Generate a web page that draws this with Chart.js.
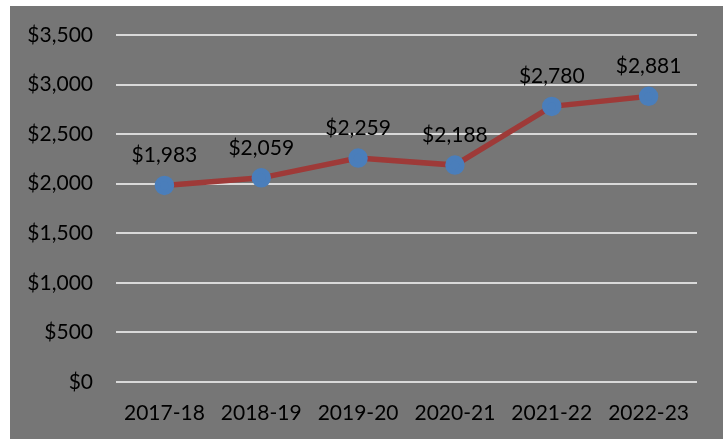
<!DOCTYPE html>
<html>
<head>
<meta charset="utf-8">
<script src="https://cdn.jsdelivr.net/npm/chart.js@4"></script>
<style>
  html, body { margin: 0; padding: 0; background: #fff; }
  #wrap { position: absolute; left: 10px; top: 6px; width: 713px; height: 433px; background: #767676; }
</style>
</head>
<body>
<div id="wrap"><canvas id="chartCanvas"></canvas></div>
<script>
// datos del grafico
var years = ["2017-18", "2018-19", "2019-20", "2020-21", "2021-22", "2022-23"];
var costs = [1983, 2059, 2259, 2188, 2780, 2881];
var yTicks = [0, 500, 1000, 1500, 2000, 2500, 3000, 3500];

function money(v) {
  return "$" + v.toLocaleString("en-US");
}

// etiquetas encima de cada punto
var labelPlugin = {
  id: "pointLabels",
  afterDatasetsDraw: function(chart) {
    var ctx = chart.ctx;
    var meta = chart.getDatasetMeta(0);
    ctx.save();
    ctx.font = "21px Lato";
    ctx.fillStyle = "#000";
    ctx.textAlign = "center";
    ctx.textBaseline = "middle";
    meta.data.forEach(function(pt, i) {
      ctx.fillText(money(costs[i]), pt.x, pt.y - 30);
    });
    ctx.restore();
  }
};

var ctx = document.getElementById("chartCanvas").getContext("2d");
var myChart = new Chart(ctx, {
  type: "line",
  data: {
    labels: years,
    datasets: [{
      data: costs,
      borderColor: "#9E3A38",
      borderWidth: 5.5,
      backgroundColor: "#4A7EBB",
      pointBackgroundColor: "#4A7EBB",
      pointBorderColor: "#4A7EBB",
      pointRadius: 7,
      tension: 0
    }]
  },
  options: {
    responsive: true,
    maintainAspectRatio: false,
    animation: false,
    layout: { padding: { top: 29, right: 26, bottom: 0, left: 17 } },
    plugins: { legend: { display: false }, tooltip: { enabled: false } },
    scales: {
      x: {
        offset: true,
        grid: { display: false },
        border: { display: false },
        afterFit: function(axis) { axis.height = 57; },
        ticks: { color: "#000", font: { family: "Lato", size: 21 }, padding: 11, maxRotation: 0, minRotation: 0 }
      },
      y: {
        min: 0,
        max: 3500,
        afterBuildTicks: function(axis) {
          axis.ticks = yTicks.map(function(v) { return { value: v }; });
        },
        afterFit: function(axis) {
          axis.width = 89;
          axis.paddingTop = 0;
          axis.paddingBottom = 0;
        },
        grid: { color: "#D9D9D9", lineWidth: 2, drawTicks: false },
        border: { display: false },
        ticks: {
          color: "#000",
          font: { family: "Lato", size: 21 },
          padding: 23,
          callback: function(v) { return money(v); }
        }
      }
    }
  },
  plugins: [labelPlugin]
});
</script>
</body>
</html>
